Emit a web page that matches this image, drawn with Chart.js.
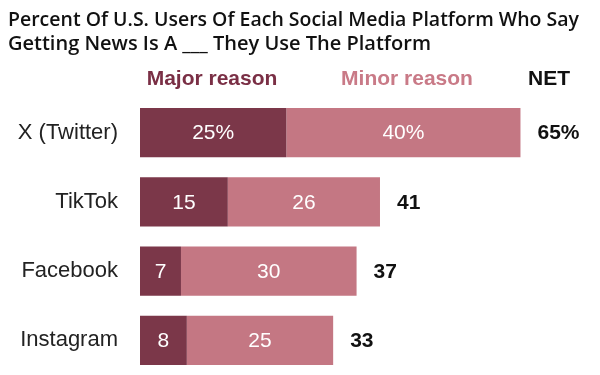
<!DOCTYPE html>
<html>
<head>
<meta charset="utf-8">
<script src="https://cdn.jsdelivr.net/npm/chart.js@4"></script>
<style>
  html, body { margin: 0; padding: 0; background: #fff; }
  canvas { display: block; }
</style>
</head>
<body>
<canvas id="news-chart" width="600" height="375"></canvas>
<script>
// values
const platforms = ["X (Twitter)", "TikTok", "Facebook", "Instagram"];
const major_reason = [25, 15, 7, 8];
const minor_reason = [40, 26, 30, 25];
const series_names = ["Major reason", "Minor reason", "NET"];
const title_lines = [
    "Percent Of U.S. Users Of Each Social Media Platform Who Say",
    "Getting News Is A ___ They Use The Platform"
];

const dark_color = "#7b3749";
const light_color = "#c47783";
const label_font = "'Liberation Sans', Arial, sans-serif";

// bar labels, NET totals and the column headers
const barLabels = {
    id: "barLabels",
    afterDatasetsDraw(chart) {
        const ctx = chart.ctx;
        ctx.save();
        ctx.textBaseline = "middle";

        // numbers inside the segments
        ctx.font = "21px " + label_font;
        ctx.fillStyle = "#ffffff";
        ctx.textAlign = "center";
        chart.data.datasets.forEach(function (ds, d) {
            const meta = chart.getDatasetMeta(d);
            meta.data.forEach(function (bar, i) {
                const txt = ds.data[i] + (i === 0 ? "%" : "");
                ctx.fillText(txt, (bar.x + bar.base) / 2, bar.y + 1);
            });
        });

        // NET totals after the bar
        ctx.font = "bold 21px " + label_font;
        ctx.fillStyle = "#111111";
        ctx.textAlign = "left";
        const last = chart.getDatasetMeta(1);
        last.data.forEach(function (bar, i) {
            const net = major_reason[i] + minor_reason[i];
            ctx.fillText(net + (i === 0 ? "%" : ""), bar.x + 17, bar.y + 1);
        });

        // column headers
        const left = chart.chartArea.left;
        const header_y = 79;
        ctx.textAlign = "center";
        ctx.fillStyle = "#7a2f45";
        ctx.fillText(series_names[0], left + 72, header_y);
        ctx.fillStyle = "#c97a87";
        ctx.fillText(series_names[1], left + 267, header_y);
        ctx.fillStyle = "#111111";
        ctx.fillText(series_names[2], left + 409, header_y);
        ctx.restore();
    }
};

new Chart(document.getElementById("news-chart"), {
    type: "bar",
    data: {
        labels: platforms,
        datasets: [
            {
                label: series_names[0],
                data: major_reason,
                backgroundColor: dark_color,
                barPercentage: 0.71,
                categoryPercentage: 1.0
            },
            {
                label: series_names[1],
                data: minor_reason,
                backgroundColor: light_color,
                barPercentage: 0.71,
                categoryPercentage: 1.0
            }
        ]
    },
    options: {
        indexAxis: "y",
        responsive: false,
        animation: false,
        layout: {
            padding: { left: 8, right: 21, top: 0, bottom: 0 }
        },
        scales: {
            x: {
                stacked: true,
                display: false,
                min: 0,
                max: 75
            },
            y: {
                stacked: true,
                grid: { display: false },
                border: { display: false },
                ticks: {
                    color: "#222222",
                    padding: 14,
                    font: { family: label_font, size: 22 }
                },
                afterFit: function (scale) {
                    scale.width = 132;
                    // no extra room above/below the categories
                    scale.paddingTop = 0;
                    scale.paddingBottom = 0;
                }
            }
        },
        plugins: {
            legend: { display: false },
            tooltip: { enabled: false },
            title: {
                display: true,
                text: title_lines,
                align: "start",
                color: "#111111",
                font: { family: "'Open Sans', sans-serif", size: 20, weight: "600", lineHeight: 1.2 },
                padding: { top: 8, bottom: 42 }
            }
        }
    },
    plugins: [barLabels]
});
</script>
</body>
</html>
